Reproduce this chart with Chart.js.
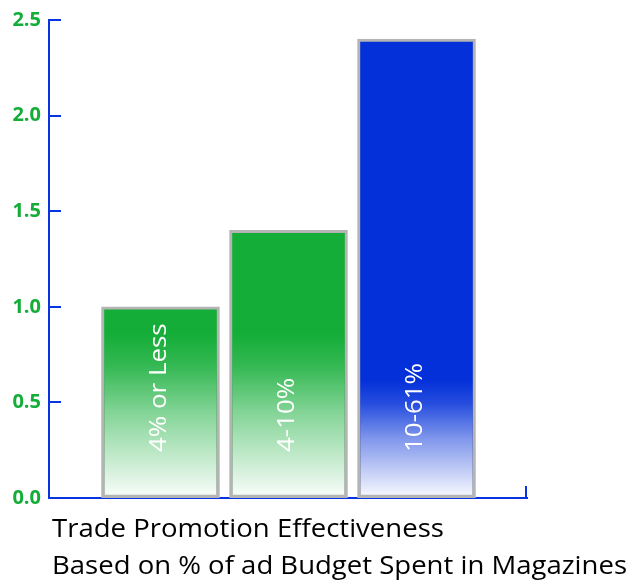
<!DOCTYPE html>
<html>
<head>
<meta charset="utf-8">
<script src="https://cdn.jsdelivr.net/npm/chart.js@4.4.1/dist/chart.umd.min.js"></script>
<style>
  html, body { margin: 0; padding: 0; background: #fff; }
  #wrap { width: 634px; height: 583px; }
</style>
</head>
<body>
<div id="wrap"><canvas id="promoChart" width="634" height="583"></canvas></div>
<script>
// 잡지 광고 예산 비중별 트레이드 프로모션 효과
const categories = ['4% or Less', '4-10%', '10-61%'];
const effectiveness = [1.0, 1.4, 2.4];
const yTicks = [0, 0.5, 1.0, 1.5, 2.0, 2.5];
const titleLines = ['Trade Promotion Effectiveness', 'Based on % of ad Budget Spent in Magazines'];

const axisBlue = '#0733e0';
const tickGreen = '#13ad38';
const barColors = ['19,173,55', '19,173,55', '3,48,217']; // 초록, 초록, 파랑
const fadeHeights = [165, 165, 118];  // 아래쪽 흰색으로 빠지는 구간 (px)

// 막대 아래쪽을 흰색으로 그라데이션
function barFill(ctx) {
    const chart = ctx.chart;
    const rgb = barColors[ctx.dataIndex];
    if (!chart.chartArea) return 'rgb(' + rgb + ')';
    const base = chart.scales.y.getPixelForValue(0);
    const g = chart.ctx.createLinearGradient(0, base, 0, base - fadeHeights[ctx.dataIndex]);
    g.addColorStop(0, 'rgba(' + rgb + ',0.02)');
    g.addColorStop(0.5, 'rgba(' + rgb + ',0.5)');
    g.addColorStop(0.8, 'rgba(' + rgb + ',0.86)');
    g.addColorStop(1, 'rgba(' + rgb + ',1)');
    return g;
}

// 막대 안의 세로 라벨
const barLabels = {
    id: 'barLabels',
    afterDatasetsDraw(chart) {
        const ctx = chart.ctx;
        const base = chart.scales.y.getPixelForValue(0);
        chart.getDatasetMeta(0).data.forEach((bar, i) => {
            ctx.save();
            ctx.translate(bar.x - 1, base - 46);
            ctx.rotate(-Math.PI / 2);
            ctx.font = '24px "Open Sans"';
            ctx.fillStyle = '#ffffff';
            ctx.textAlign = 'left';
            ctx.textBaseline = 'middle';
            ctx.scale(1.08, 1);
            ctx.fillText(categories[i], 0, 0);
            ctx.restore();
        });
    }
};

// 안쪽으로 향하는 눈금선 + x축 끝 눈금
const innerTicks = {
    id: 'innerTicks',
    afterDraw(chart) {
        const ctx = chart.ctx;
        const y = chart.scales.y;
        const x = chart.scales.x;
        ctx.save();
        ctx.strokeStyle = axisBlue;
        ctx.lineWidth = 2;
        ctx.beginPath();
        yTicks.forEach(v => {
            const py = Math.round(y.getPixelForValue(v));
            ctx.moveTo(y.right, py);
            ctx.lineTo(y.right + 12, py);
        });
        ctx.moveTo(x.right - 1, x.top);
        ctx.lineTo(x.right - 1, x.top - 12);
        ctx.stroke();
        ctx.restore();
    }
};

// 아래쪽 제목 (왼쪽 정렬 두 줄, 가로로 조금 넓게)
const bottomTitle = {
    id: 'bottomTitle',
    afterDraw(chart) {
        const ctx = chart.ctx;
        ctx.save();
        ctx.font = '25px "Open Sans"';
        ctx.fillStyle = '#000';
        ctx.textAlign = 'left';
        ctx.textBaseline = 'alphabetic';
        const widest = Math.max(...titleLines.map(t => ctx.measureText(t).width));
        const sx = 575 / widest;
        ctx.translate(52, 0);
        ctx.scale(sx, 1);
        titleLines.forEach((t, i) => ctx.fillText(t, 0, 537 + i * 37));
        ctx.restore();
    }
};

new Chart(document.getElementById('promoChart'), {
    type: 'bar',
    data: {
        datasets: [{
            data: effectiveness.map((v, i) => ({ x: i, y: v })),
            backgroundColor: barFill,
            borderColor: '#b4b4b4',
            borderWidth: 3,
            borderSkipped: false,
            barThickness: 118
        }]
    },
    options: {
        responsive: false,
        animation: false,
        layout: { padding: { top: 18, right: 107, bottom: 77, left: 0 } },
        plugins: {
            legend: { display: false },
            tooltip: { enabled: false },
            title: { display: false }
        },
        scales: {
            x: {
                type: 'linear',
                offset: false,
                min: -0.871,
                max: 2.863,
                grid: { display: false },
                ticks: { display: false },
                border: { display: true, color: axisBlue, width: 2 }
            },
            y: {
                min: 0,
                max: 2.5,
                afterBuildTicks: scale => { scale.ticks = yTicks.map(v => ({ value: v })); },
                afterFit: scale => { scale.width = 49; },
                grid: { display: false, drawTicks: false },
                border: { display: true, color: axisBlue, width: 2 },
                ticks: {
                    color: tickGreen,
                    padding: 8,
                    font: { family: 'Open Sans', size: 20, weight: 'bold' },
                    callback: v => v.toFixed(1)
                }
            }
        }
    },
    plugins: [barLabels, innerTicks, bottomTitle]
});
</script>
</body>
</html>
